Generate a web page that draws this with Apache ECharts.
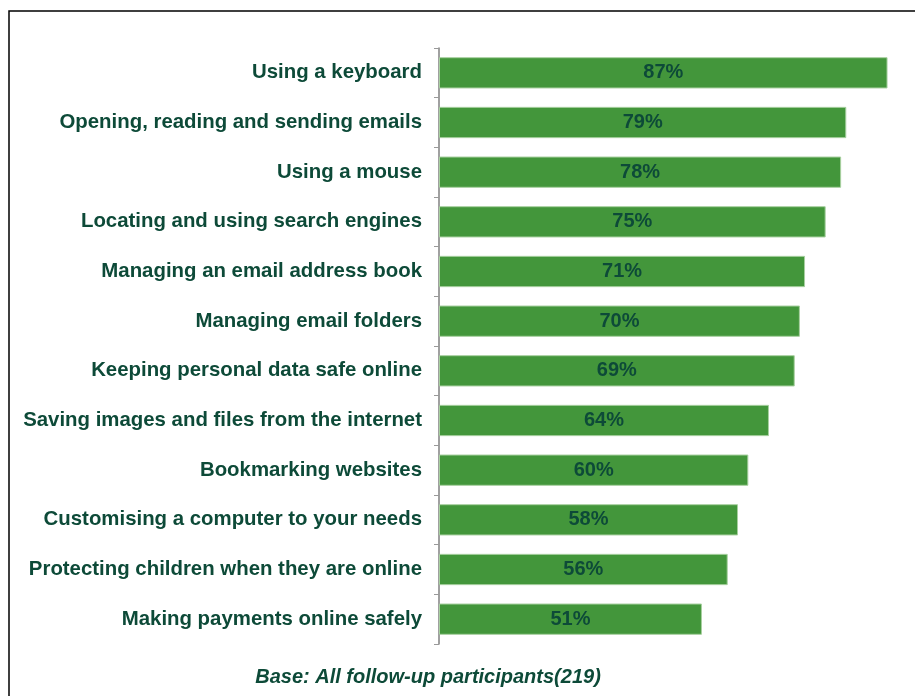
<!DOCTYPE html>
<html><head><meta charset="utf-8">
<script src="https://cdn.jsdelivr.net/npm/echarts@6/dist/echarts.min.js"></script>
<style>html,body{margin:0;padding:0;background:#fff}#c{width:915px;height:696px}</style>
</head><body><div id="c"></div>
<script>
const categories = ["Using a keyboard","Opening, reading and sending emails","Using a mouse","Locating and using search engines","Managing an email address book","Managing email folders","Keeping personal data safe online","Saving images and files from the internet","Bookmarking websites","Customising a computer to your needs","Protecting children when they are online","Making payments online safely"];
const values = [87,79,78,75,71,70,69,64,60,58,56,51];
const footnote = "Base: All follow-up participants(219)";

const font = "'Liberation Sans', Arial, sans-serif";
const textColor = "#0d4a38";
const chart = echarts.init(document.getElementById('c'));
chart.setOption({
  animation:false,
  graphic:[
    {type:'rect',shape:{x:9,y:11,width:920,height:700},style:{fill:'none',stroke:'#000',lineWidth:1.5},silent:true},
    {type:'text',x:428,y:677,style:{text:footnote,font:"italic bold 20px "+font,fill:textColor,align:'center',verticalAlign:'middle'}}
  ],
  grid:{left:439,right:12,top:48,bottom:52},
  xAxis:{type:'value',min:0,max:90,show:false},
  yAxis:{type:'category',data:categories,inverse:true,
    axisLine:{show:true,lineStyle:{color:'#808080',width:1.5}},
    axisTick:{show:true,inside:false,length:5,lineStyle:{color:'#999'}},
    axisLabel:{margin:17,color:textColor,fontFamily:font,fontWeight:'bold',fontSize:20.4}
  },
  series:[{type:'bar',data:values,barCategoryGap:'37%',
    itemStyle:{color:'#43963b',borderColor:'#a8d0a0',borderWidth:1},
    label:{show:true,position:'inside',formatter:'{c}%',color:textColor,fontFamily:font,fontWeight:'bold',fontSize:20}
  }]
});
</script></body></html>
